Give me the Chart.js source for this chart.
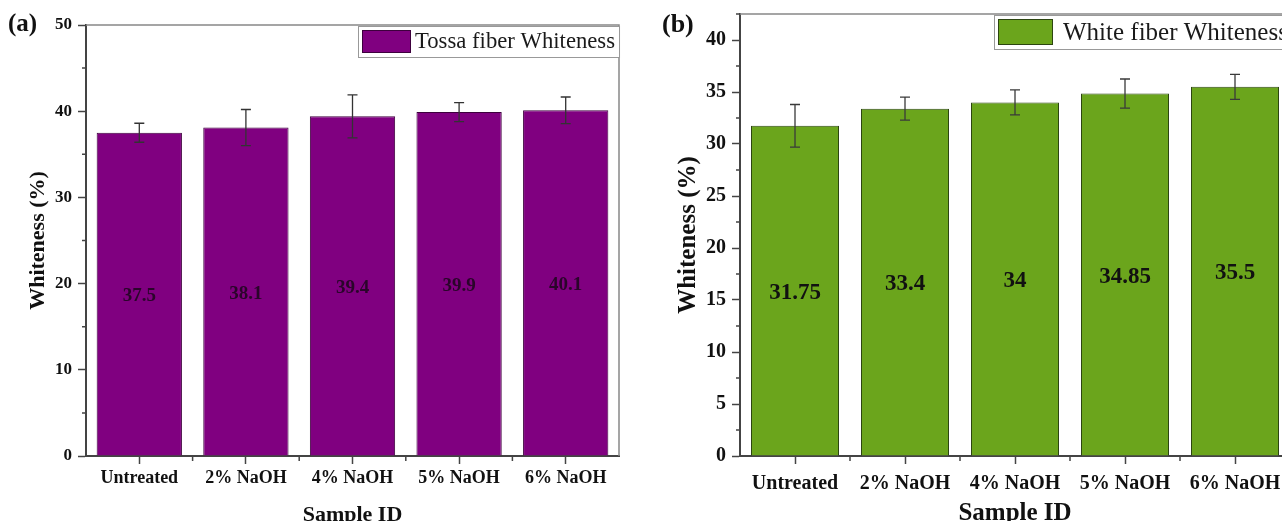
<!DOCTYPE html>
<html>
<head>
<meta charset="utf-8">
<script src="https://cdn.jsdelivr.net/npm/chart.js@4.4.1/dist/chart.umd.min.js"></script>
<style>
  html, body { margin: 0; padding: 0; background: #fff; overflow: hidden; }
  body { width: 1282px; height: 521px; position: relative; }
  .panel { position: absolute; top: 0; }
  #wrapA { left: 0; }
  #wrapB { left: 640px; }
</style>
</head>
<body>
<div id="wrapA" class="panel"><canvas id="chartA" width="640" height="530"></canvas></div>
<div id="wrapB" class="panel"><canvas id="chartB" width="660" height="530"></canvas></div>
<script>
// Data
const categories = ["Untreated", "2% NaOH", "4% NaOH", "5% NaOH", "6% NaOH"];
const tossaWhiteness = [37.5, 38.1, 39.4, 39.9, 40.1];
const tossaError = [1.1, 2.1, 2.5, 1.1, 1.55];
const whiteWhiteness = [31.75, 33.4, 34, 34.85, 35.5];
const whiteError = [2.05, 1.1, 1.2, 1.4, 1.2];

const SERIF = "'Liberation Serif', 'Times New Roman', serif";

// error bars, value labels, frame, minor ticks, legend box and panel letter
const decorPlugin = {
  id: "decor",
  afterDatasetsDraw(chart, args, opts) {
    const ctx = chart.ctx;
    const y = chart.scales.y;
    const ds = chart.data.datasets[0];
    const meta = chart.getDatasetMeta(0);
    ctx.save();
    ctx.strokeStyle = opts.errColor;
    ctx.lineWidth = 1.3;
    meta.data.forEach((bar, i) => {
      const v = ds.data[i], e = opts.errors[i];
      const yt = y.getPixelForValue(v + e), yb = y.getPixelForValue(v - e);
      ctx.beginPath();
      ctx.moveTo(bar.x, yt); ctx.lineTo(bar.x, yb);
      ctx.moveTo(bar.x - opts.cap, yt); ctx.lineTo(bar.x + opts.cap, yt);
      ctx.moveTo(bar.x - opts.cap, yb); ctx.lineTo(bar.x + opts.cap, yb);
      ctx.stroke();
    });
    ctx.font = `bold ${opts.labelSize}px ${SERIF}`;
    ctx.fillStyle = opts.labelColor;
    ctx.textAlign = "center";
    ctx.textBaseline = "middle";
    meta.data.forEach((bar, i) => {
      ctx.fillText(String(ds.data[i]), bar.x, y.getPixelForValue(ds.data[i] / 2) + 2);
    });
    ctx.restore();
  },
  afterDraw(chart, args, opts) {
    const ctx = chart.ctx;
    const { left, right, top, bottom } = chart.chartArea;
    const x = chart.scales.x, y = chart.scales.y;
    ctx.save();
    // top and right frame
    ctx.strokeStyle = opts.frameColor;
    ctx.lineWidth = 1.5;
    ctx.beginPath();
    ctx.moveTo(left, top); ctx.lineTo(right, top); ctx.lineTo(right, bottom);
    ctx.stroke();
    // minor ticks
    ctx.strokeStyle = opts.tickColor;
    ctx.lineWidth = 1.5;
    ctx.beginPath();
    y.ticks.forEach(t => {
      if (t.value % opts.yMajor !== 0) {
        const py = y.getPixelForValue(t.value);
        ctx.moveTo(left - 4, py); ctx.lineTo(left, py);
      }
    });
    for (let i = 0; i < categories.length - 1; i++) {
      const px = (x.getPixelForValue(i) + x.getPixelForValue(i + 1)) / 2;
      ctx.moveTo(px, bottom); ctx.lineTo(px, bottom + 5);
    }
    ctx.stroke();
    // legend box
    const ds = chart.data.datasets[0];
    const lg = opts.legend;
    ctx.font = `${lg.size}px ${SERIF}`;
    const tw = ctx.measureText(ds.label).width;
    const bx = left + lg.dx, by = top + 1;
    const bw = 4 + lg.sw + lg.gap + tw + 4, bh = lg.h;
    ctx.fillStyle = "#fff";
    ctx.fillRect(bx, by, bw, bh);
    ctx.strokeStyle = "#999";
    ctx.lineWidth = 1;
    ctx.strokeRect(bx + 0.5, by + 0.5, bw, bh);
    ctx.fillStyle = ds.backgroundColor;
    ctx.fillRect(bx + 4, by + 4, lg.sw, bh - 8);
    ctx.strokeStyle = ds.borderColor;
    ctx.strokeRect(bx + 4.5, by + 4.5, lg.sw - 1, bh - 9);
    ctx.fillStyle = "#1a1a1a";
    ctx.textAlign = "left";
    ctx.textBaseline = "middle";
    ctx.fillText(ds.label, bx + 4 + lg.sw + lg.gap, by + bh / 2 + 1);
    // panel letter
    ctx.font = `bold ${opts.letterSize}px ${SERIF}`;
    ctx.fillStyle = "#111";
    ctx.fillText(opts.letter, opts.letterX, opts.letterY);
    ctx.restore();
  }
};

function makeChart(id, cfg) {
  const xFont = { family: SERIF, size: cfg.xTickSize, weight: "bold" };
  const yFont = { family: SERIF, size: cfg.yTickSize, weight: "bold" };
  const titleFont = { family: SERIF, size: cfg.titleSize, weight: "bold" };
  return new Chart(document.getElementById(id), {
    type: "bar",
    data: {
      labels: categories,
      datasets: [{
        label: cfg.label,
        data: cfg.values,
        backgroundColor: cfg.color,
        borderColor: cfg.edge,
        borderWidth: 1,
        barPercentage: 0.8,
        categoryPercentage: 1
      }]
    },
    options: {
      responsive: false,
      animation: false,
      layout: { padding: { left: 0, top: cfg.top, right: cfg.right, bottom: 0 } },
      scales: {
        x: {
          afterFit: s => { s.height = 74; s.paddingLeft = 0; s.paddingRight = 0; },
          grid: { offset: false, drawOnChartArea: false, tickLength: 8, tickColor: "#444", tickWidth: 1.5 },
          border: { color: "#444", width: 2 },
          ticks: { font: xFont, color: "#111", padding: cfg.xPad, maxRotation: 0 },
          title: { display: true, text: "Sample ID", font: titleFont, color: "#111", padding: { top: 0, bottom: cfg.xTitlePad } }
        },
        y: {
          min: 0,
          max: cfg.yMax,
          afterFit: s => { s.width = cfg.yWidth; s.paddingTop = 0; s.paddingBottom = 0; },
          grid: {
            drawOnChartArea: false,
            tickLength: 8,
            tickWidth: 1.5,
            tickColor: c => (c.tick && c.tick.value % cfg.yMajor === 0 ? "#444" : "rgba(0,0,0,0)")
          },
          border: { color: "#444", width: 2 },
          ticks: {
            stepSize: cfg.yStep,
            autoSkip: false,
            padding: 6,
            font: yFont,
            color: "#111",
            callback: v => (v % cfg.yMajor === 0 ? v : "")
          },
          title: { display: true, text: "Whiteness (%)", font: titleFont, color: "#111", padding: { top: cfg.yTitlePad, bottom: 0 } }
        }
      },
      plugins: {
        legend: { display: false },
        tooltip: { enabled: false },
        decor: {
          errors: cfg.errors,
          errColor: cfg.errColor,
          cap: 5,
          labelSize: cfg.labelSize,
          labelColor: cfg.labelColor,
          frameColor: "#888",
          tickColor: "#444",
          yMajor: cfg.yMajor,
          legend: cfg.legend,
          letter: cfg.letter,
          letterSize: cfg.letterSize,
          letterX: cfg.letterX,
          letterY: 25
        }
      }
    },
    plugins: [decorPlugin]
  });
}

makeChart("chartA", {
  label: "Tossa fiber Whiteness",
  values: tossaWhiteness,
  errors: tossaError,
  color: "#800080",
  edge: "#3d003d",
  errColor: "#333",
  labelColor: "#2a052a",
  labelSize: 19,
  xTickSize: 18,
  yTickSize: 17,
  titleSize: 22,
  top: 25,
  right: 21,
  yWidth: 86,
  yMax: 50,
  yStep: 5,
  yMajor: 10,
  xPad: 4,
  xTitlePad: 1,
  yTitlePad: 25,
  legend: { dx: 272, h: 31, sw: 49, gap: 4, size: 22.7 },
  letter: "(a)",
  letterSize: 25,
  letterX: 8
});

makeChart("chartB", {
  label: "White fiber Whiteness",
  values: whiteWhiteness,
  errors: whiteError,
  color: "#6ba51c",
  edge: "#2c4510",
  errColor: "#3a3a3a",
  labelColor: "#111",
  labelSize: 23,
  xTickSize: 20,
  yTickSize: 20,
  titleSize: 25,
  top: 14,
  right: 10,
  yWidth: 100,
  yMax: 42.5,
  yStep: 2.5,
  yMajor: 5,
  xPad: 8,
  xTitlePad: 1,
  yTitlePad: 34,
  legend: { dx: 254, h: 34, sw: 55, gap: 10, size: 25 },
  letter: "(b)",
  letterSize: 26,
  letterX: 22
});
</script>
</body>
</html>
